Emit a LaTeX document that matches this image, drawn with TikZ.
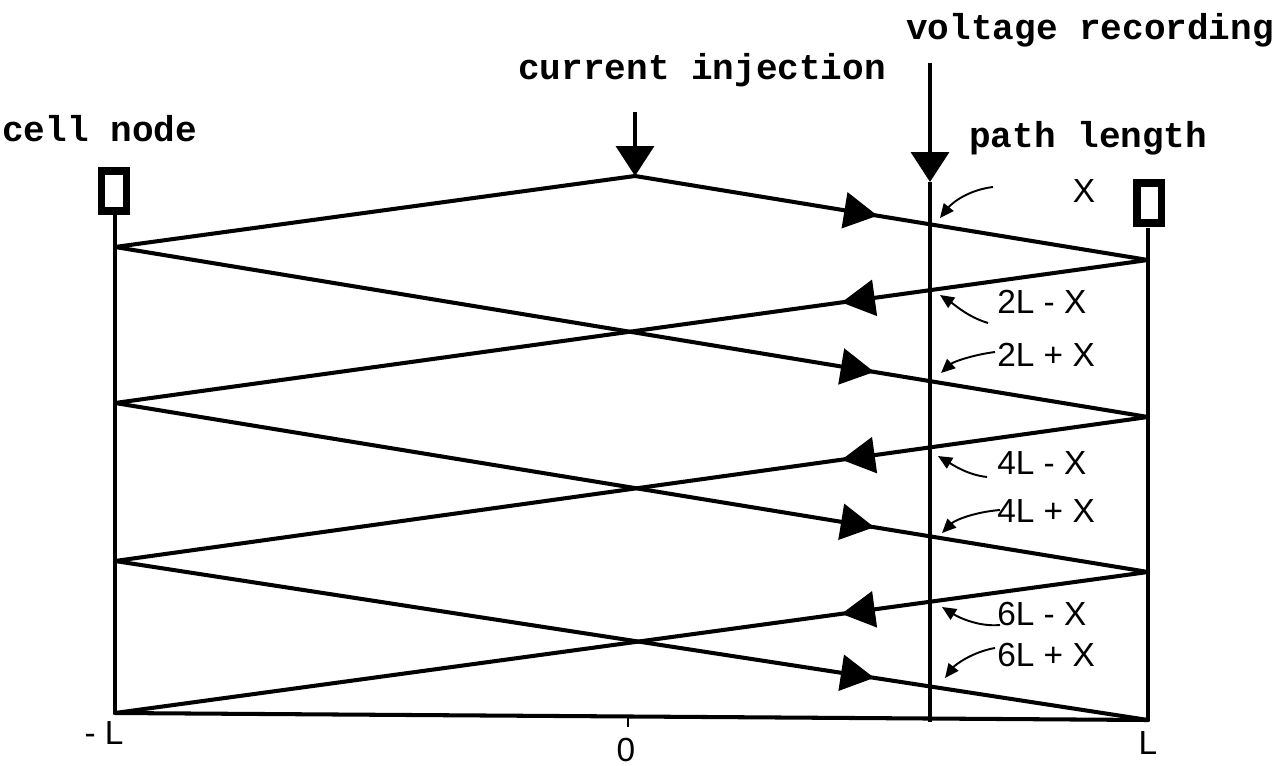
\documentclass[tikz,border=0pt]{standalone}
\usepackage{fontspec}
\setmainfont{Liberation Sans}
\newfontfamily\tw{Liberation Mono}
\usetikzlibrary{arrows.meta,decorations.markings}
\begin{document}
\begin{tikzpicture}[x=0.02cm,y=-0.02cm,
  wire/.style={line width=2.3pt, line cap=round, line join=round},
  post/.style={line width=2.8pt},
  flowtri/.style={postaction={decorate}, decoration={markings, mark=at position #1 with {\fill (-9.5pt,-10.5pt) -- (9.5pt,0pt) -- (-9.5pt,10.5pt) -- cycle;}}},
  cellbox/.style={draw, line width=4.5pt, minimum width=14.2pt, minimum height=23pt, inner sep=0pt, fill=white},
  typed/.style={font=\tw\bfseries\fontsize{20.5}{24}\selectfont, inner sep=0pt, anchor=base west},
  hand/.style={font=\fontsize{19}{22}\selectfont, inner sep=0pt},
  note/.style={line width=1.1pt, -{Triangle[length=8pt,width=7pt]}},
  bigtip/.style={line width=2.2pt, -{Triangle[length=17pt,width=21.5pt]}}
]
\useasboundingbox (0,0) rectangle (1283,766);

% texts
\node[typed] (tcell) at (2,142) {cell node};
\node[typed] (tinj) at (518,80) {current injection};
\node[typed] (tvolt) at (906,40) {voltage recording};
\node[typed] (tpath) at (969,148) {path length};

% key points
\coordinate (inj) at (635,176);
\coordinate (injtop) at (635,112);
\coordinate (vtop) at (930,63);
\coordinate (vtip) at (930,182);
\coordinate (vbot) at (930,722);
\coordinate (L1) at (115,247);
\coordinate (L2) at (115,403);
\coordinate (L3) at (115,561);
\coordinate (L4) at (115,713);
\coordinate (R1) at (1148,260);
\coordinate (R2) at (1148,417);
\coordinate (R3) at (1148,572);
\coordinate (R4) at (1148,720);
\coordinate (zero) at (628,716.5);
\coordinate (zerob) at (628,727);

% cell ends
\draw[post] (115,215) -- (L4);
\draw[post] (1148,228) -- (R4);
\node[cellbox] (lbox) at (114,191) {};
\node[cellbox] (rbox) at (1149,203) {};

% zigzag paths
\draw[wire] (inj) -- (L1);
\draw[wire, flowtri=0.4405] (inj) -- (R1);
\draw[wire, flowtri=0.719] (L1) -- (R2);
\draw[wire, flowtri=0.2807] (R1) -- (L2);
\draw[wire, flowtri=0.719] (L2) -- (R3);
\draw[wire, flowtri=0.2807] (R2) -- (L3);
\draw[wire, flowtri=0.719] (L3) -- (R4);
\draw[wire, flowtri=0.2807] (R3) -- (L4);
\draw[wire] (L4) -- (R4);
\draw[line width=1.5pt] (zero) -- (zerob);

% injection and recording
\draw[bigtip] (injtop) -- (inj);
\draw[line width=1.9pt] (vtip) -- (vbot);
\draw[bigtip] (vtop) -- (vtip);

% path length labels
\node[hand] (lX) at (1084,191) {X};
\node[hand, anchor=west] (l2m) at (997,302) {2L - X};
\node[hand, anchor=west] (l2p) at (997,355) {2L + X};
\node[hand, anchor=west] (l4m) at (997,463) {4L - X};
\node[hand, anchor=west] (l4p) at (997,511) {4L + X};
\node[hand, anchor=west] (l6m) at (997,614) {6L - X};
\node[hand, anchor=west] (l6p) at (997,655) {6L + X};

\coordinate (s1) at (993,187);  \coordinate (p1) at (940,218);
\coordinate (s2) at (988,323);  \coordinate (p2) at (940,295);
\coordinate (s3) at (995,352);  \coordinate (p3) at (941,373);
\coordinate (s4) at (987,477);  \coordinate (p4) at (938,456);
\coordinate (s5) at (1000,510); \coordinate (p5) at (942,533);
\coordinate (s6) at (1000,625); \coordinate (p6) at (942,607);
\coordinate (s7) at (995,648);  \coordinate (p7) at (945,678);

\draw[note] (s1) .. controls (968,190) and (952,203) .. (p1);
\draw[note] (s2) .. controls (968,317) and (955,305) .. (p2);
\draw[note] (s3) .. controls (972,355) and (953,362) .. (p3);
\draw[note] (s4) .. controls (968,475) and (953,465) .. (p4);
\draw[note] (s5) .. controls (975,512) and (955,520) .. (p5);
\draw[note] (s6) .. controls (978,627) and (958,617) .. (p6);
\draw[note] (s7) .. controls (972,652) and (955,665) .. (p7);

% axis labels
\node[hand] (amL) at (104,733) {- L};
\node[hand] (a0) at (626,750) {0};
\node[hand] (aL) at (1148,743) {L};
\end{tikzpicture}
\end{document}
